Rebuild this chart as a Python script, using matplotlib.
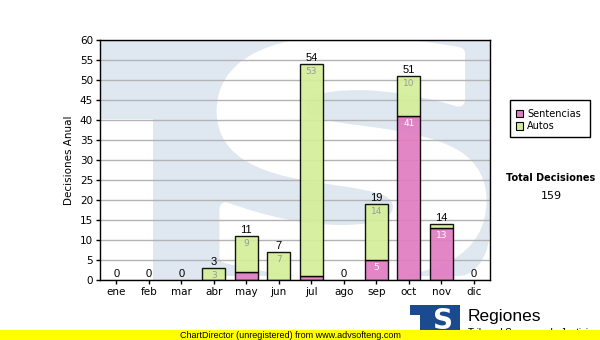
import numpy as np
import matplotlib
matplotlib.use("Agg")
import matplotlib.pyplot as plt
from matplotlib.patches import Rectangle, PathPatch, Polygon
from matplotlib.textpath import TextPath
from matplotlib.font_manager import FontProperties
from matplotlib.transforms import Affine2D

# Datos mensuales
meses = ["ene", "feb", "mar", "abr", "may", "jun", "jul", "ago", "sep", "oct", "nov", "dic"]
sentencias = [0, 0, 0, 0, 2, 0, 1, 0, 5, 41, 13, 0]
autos = [0, 0, 0, 3, 9, 7, 53, 0, 14, 10, 1, 0]
total_decisiones = 159

c_sent = "#e07cc2"
c_auto = "#d4ee98"
wm_blue = "#dfe8f1"

fig = plt.figure(figsize=(6, 3.4), dpi=100)
ax = fig.add_axes([100 / 600, 60 / 340, 390 / 600, 240 / 340])
plt.rcParams["font.family"] = ["Liberation Sans", "DejaVu Sans"]

# marca de agua (logo TS)
fondo = Polygon([(0, 1), (1, 1), (1, 0.017), (0.27, 0.017), (0.27, 0.0),
                 (0.136, 0.0), (0.136, 0.67), (0, 0.67)],
                closed=True, transform=ax.transAxes, facecolor=wm_blue,
                edgecolor="none", zorder=0.1)
ax.add_patch(fondo)
# esquina redondeada inferior derecha
t = np.linspace(0, np.pi / 2, 30)
corner = [(1.0, 0.0), (1.0, 0.217)] + [(0.92 + 0.08 * np.cos(a), 0.217 - 0.2 * np.sin(a)) for a in t] + [(0.92, 0.0)]
ax.add_patch(Polygon(corner, closed=True, transform=ax.transAxes, facecolor="white",
                     edgecolor="none", zorder=0.15))
tp = TextPath((0, 0), "S", prop=FontProperties(family="DejaVu Sans", weight="bold"), size=1)
ext = tp.get_extents()
x0, x1, y0, y1 = 0.315, 0.975, 0.03, 0.99
tr = Affine2D().translate(-ext.x0, -ext.y0).scale((x1 - x0) / ext.width, (y1 - y0) / ext.height).translate(x0, y0)
ax.add_patch(PathPatch(tr.transform_path(tp), transform=ax.transAxes, facecolor="white",
                       edgecolor="white", linewidth=9, joinstyle="round", zorder=0.2))

x = np.arange(len(meses))
w = 0.71
b1 = ax.bar(x, sentencias, w, color=c_sent, alpha=0.92, edgecolor="black", linewidth=1, zorder=2)
b2 = ax.bar(x, autos, w, bottom=sentencias, color=c_auto, alpha=0.92, edgecolor="black", linewidth=1, zorder=2)
# sin borde para barras vacías
for p in list(b1) + list(b2):
    if p.get_height() == 0:
        p.set_linewidth(0)

for i in range(len(meses)):
    tot = sentencias[i] + autos[i]
    ax.text(x[i], tot + 0.3, str(tot), ha="center", va="bottom", fontsize=8, color="black", zorder=3)
    if sentencias[i] >= 3:
        ax.text(x[i], sentencias[i] - 0.8, str(sentencias[i]), ha="center", va="top",
                fontsize=6.5, color="white", family="DejaVu Sans", zorder=3)
    if autos[i] >= 3:
        ax.text(x[i], tot - 0.8, str(autos[i]), ha="center", va="top",
                fontsize=6.5, color="#9a9a9a", family="DejaVu Sans", zorder=3)

ax.set_xlim(-0.5, 11.5)
ax.set_ylim(0, 60)
ax.set_yticks(range(0, 61, 5))
ax.set_xticks(x)
ax.set_xticklabels(meses)
ax.tick_params(axis="both", labelsize=7.5, length=3, width=1, pad=2)
ax.set_axisbelow(True)
ax.yaxis.grid(True, color="#b4b4b4", linewidth=1)
ax.set_facecolor("white")
for s in ax.spines.values():
    s.set_linewidth(1)
ax.set_ylabel("Decisiones Anual", fontsize=7.5, labelpad=4)

# leyenda
fig.patches.append(Rectangle((510 / 600, 1 - 137 / 340), 80 / 600, 37 / 340, transform=fig.transFigure,
                             facecolor="white", edgecolor="black", linewidth=1))
for k, (lab, col) in enumerate([("Sentencias", c_sent), ("Autos", c_auto)]):
    yy = 1 - (114 + k * 12) / 340
    fig.patches.append(Rectangle((516 / 600, yy - 3.5 / 340), 7 / 600, 7 / 340, transform=fig.transFigure,
                                 facecolor=col, edgecolor="black", linewidth=0.8))
    fig.text(527 / 600, yy, lab, fontsize=7, va="center", ha="left", family="DejaVu Sans")

fig.text(551 / 600, 1 - 178 / 340, "Total Decisiones", fontsize=7, fontweight="bold",
         ha="center", va="center", family="DejaVu Sans")
fig.text(551 / 600, 1 - 196 / 340, str(total_decisiones), fontsize=8, ha="center", va="center",
         family="DejaVu Sans")

# logo inferior
fig.patches.append(Rectangle((410 / 600, 1 - 335 / 340), 50 / 600, 30 / 340, transform=fig.transFigure,
                             facecolor="#1b4a8e", edgecolor="none"))
fig.patches.append(Rectangle((410 / 600, 1 - 335 / 340), 10 / 600, 20 / 340, transform=fig.transFigure,
                             facecolor="white", edgecolor="none"))
fig.text(443 / 600, 1 - 321 / 340, "S", fontsize=20, fontweight="bold", color="white",
         ha="center", va="center", family="DejaVu Sans")
fig.text(468 / 600, 1 - 316 / 340, "Regiones", fontsize=12.5, ha="left", va="center")
fig.text(468 / 600, 1 - 333 / 340, "Tribunal Supremo de Justicia", fontsize=7, ha="left", va="center")

# barra amarilla
fig.patches.append(Rectangle((0, 0), 1, 10 / 340, transform=fig.transFigure,
                             facecolor="#ffff00", edgecolor="none", zorder=5))
fig.text(290 / 600, 5 / 340, "ChartDirector (unregistered) from www.advsofteng.com", fontsize=6.5,
         ha="center", va="center", zorder=6)

fig.savefig("out.png", dpi=100)
